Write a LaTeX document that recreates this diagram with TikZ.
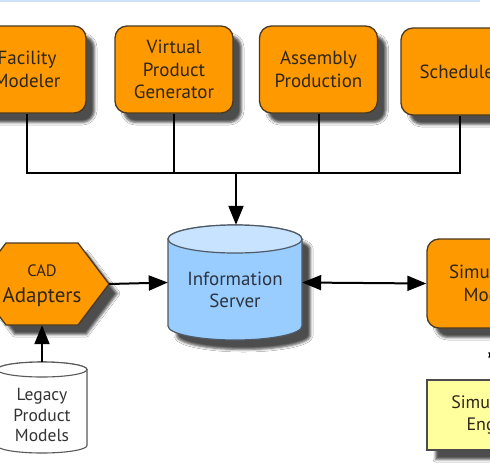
\documentclass[tikz,border=0pt]{standalone}
\usepackage{fontspec}
\setmainfont{PT Sans}
\usetikzlibrary{arrows.meta,shadows.blur,calc}
\definecolor{orangefill}{HTML}{FF9900}
\definecolor{orangeline}{HTML}{4A3A20}
\definecolor{srvbody}{HTML}{99CCFF}
\definecolor{srvtop}{HTML}{C8E3FF}
\definecolor{srvline}{HTML}{4F5A66}
\definecolor{yellowfill}{HTML}{FFFF9E}
\definecolor{topline}{HTML}{CFE2FA}
\definecolor{txtdark}{HTML}{2E2618}
\definecolor{txtblue}{HTML}{2C3440}
\tikzset{
  shad/.style={blur shadow={shadow xshift=8.5pt, shadow yshift=-9.5pt, shadow opacity=70, shadow blur radius=2.5pt}},
  obox/.style={draw=orangeline, line width=1.3pt, fill=orangefill, rounded corners=12pt,
     minimum width=118pt, minimum height=87pt, align=center, text=txtdark, shad,
     font=\fontsize{19}{22.5}\selectfont},
  ybox/.style={draw=black!70, line width=1.3pt, fill=yellowfill,
     minimum width=132pt, minimum height=70pt, align=center, text=txtdark, shad,
     font=\fontsize{18}{21.5}\selectfont},
  plain/.style={inner sep=0pt, align=center},
  conn/.style={line width=2pt, black},
  tip/.style={-{Triangle[length=19pt,width=15pt]}},
  tips/.style={{Triangle[length=19pt,width=15pt]}-{Triangle[length=19pt,width=15pt]}},
}
\begin{document}
\begin{tikzpicture}[x=1pt,y=-1pt]
\useasboundingbox (0,0) rectangle (490,475);
\clip (0,0) rectangle (490,475);
\fill[white] (0,0) rectangle (490,475);
\fill[topline] (0,0) rectangle (480,1.6);

% top row
\node[obox] (fac) at (27,69.5) {Facility\\Modeler};
\node[obox] (vpg) at (174,69.5) {Virtual\\Product\\Generator};
\node[obox] (asm) at (318.5,69.5) {Assembly\\Production};
\node[obox] (sch) at (460,71.5) {Scheduler};

% information server (cylinder)
\node[plain, minimum width=134pt, minimum height=115pt] (srv) at (235,282.5) {};
\path[fill=srvbody, draw=srvline, line width=1.2pt, shad]
  (168,239) -- (168,326) arc[start angle=180,end angle=360,x radius=67pt,y radius=14pt]
  -- (302,239) arc[start angle=0,end angle=180,x radius=67pt,y radius=14pt] -- cycle;
\draw[fill=srvtop, draw=srvline, line width=1.2pt] (235,239) ellipse[x radius=67pt, y radius=14pt];
\node[plain, text=txtblue, font=\fontsize{19}{21.5}\selectfont] at (235,290) {Information\\Server};

% CAD adapters (hexagon)
\node[plain, minimum width=134pt, minimum height=82pt] (cad) at (42,284) {};
\path[fill=orangefill, draw=orangeline, line width=1.3pt, shad]
  (-25,284) -- (6,243) -- (78,243) -- (109,284) -- (78,325) -- (6,325) -- cycle;
\node[plain, text=txtdark, font=\fontsize{21}{26}\selectfont] at (42,285.5) {{\fontsize{16.5}{19}\selectfont CAD}\\Adapters};

% legacy product models (white cylinder)
\node[plain, minimum width=90pt, minimum height=91pt] (leg) at (42,407.5) {};
\path[fill=white, draw=black!65, line width=1.1pt]
  (-3,369.5) -- (-3,445.5) arc[start angle=180,end angle=360,x radius=45pt,y radius=7.5pt]
  -- (87,369.5) arc[start angle=0,end angle=180,x radius=45pt,y radius=7.5pt] -- cycle;
\draw[fill=white, draw=black!65, line width=1.1pt] (42,369.5) ellipse[x radius=45pt, y radius=7.5pt];
\node[plain, text=black!80, font=\fontsize{17.5}{20.5}\selectfont] at (42,415) {Legacy\\Product\\Models};

% simulation
\node[obox, minimum width=132pt, minimum height=89pt] (sm) at (493,283.5) {Simulation\\Models};
\node[ybox] (se) at (493,415) {Simulation\\Engine};

% connectors
\coordinate (bus) at (236,173);
\draw[conn] (fac.south) -- (fac.south |- bus) -- (sch.south |- bus) -- (sch.south);
\draw[conn] (vpg.south) -- (vpg.south |- bus);
\draw[conn] (asm.south) -- (asm.south |- bus);
\draw[conn, tip] (bus) -- (bus |- srv.north);
\draw[conn, tip] (cad.east) -- (srv.west);
\draw[conn, tips] (srv.east) -- (sm.west);
\draw[conn, tip] (leg.north) -- (cad.south);
\draw[conn, tips, shorten <=10pt, shorten >=8pt] ([xshift=3pt]sm.south) -- ([xshift=3pt]se.north);
\end{tikzpicture}
\end{document}
